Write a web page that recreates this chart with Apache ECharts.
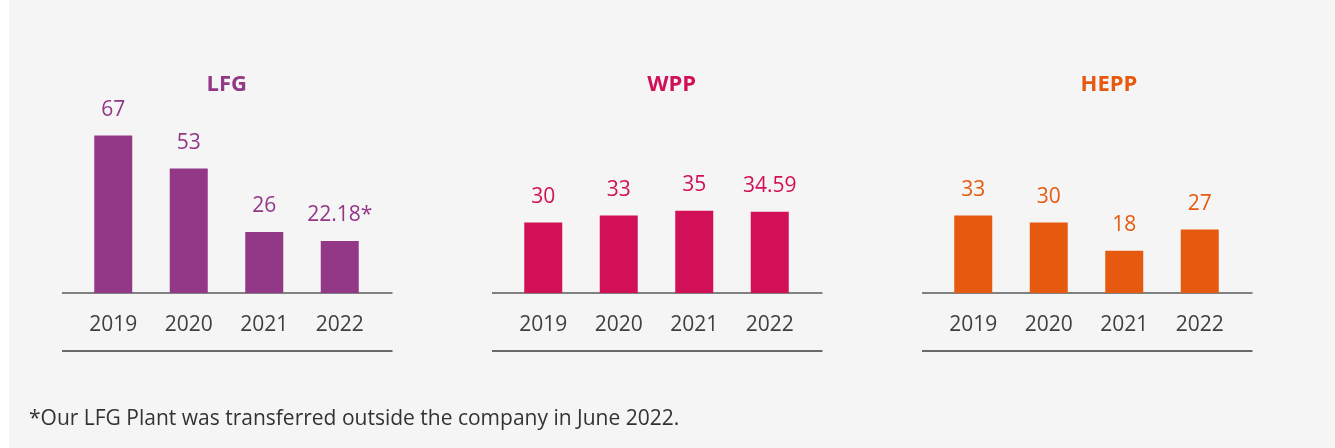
<!DOCTYPE html>
<html>
<head>
<meta charset="utf-8">
<title>LFG / WPP / HEPP</title>
<script src="https://cdn.jsdelivr.net/npm/echarts@6/dist/echarts.min.js"></script>
<style>
  html, body { margin: 0; padding: 0; background: #ffffff; }
  #chart { position: absolute; left: 9px; top: 0; width: 1326px; height: 448px; background: #f5f5f5; }
</style>
</head>
<body>
<div id="chart"></div>
<script>
// Data
const years = ['2019', '2020', '2021', '2022'];
const panelTitles = ['LFG', 'WPP', 'HEPP'];
const lfgValues = [67, 53, 26, 22.18];
const wppValues = [30, 33, 35, 34.59];
const heppValues = [33, 30, 18, 27];
const lfgNotes = ['', '', '', '*'];
const footnote = '*Our LFG Plant was transferred outside the company in June 2022.';

const panelValues = [lfgValues, wppValues, heppValues];
const panelNotes = [lfgNotes, null, null];
const panelColors = ['#933787', '#d21057', '#e65a10'];

// layout (chart div starts 9px from the page's left edge)
const OFFSET = 9;
const PANEL_STEP = 430;
const GRID_LEFT = 75.5 - OFFSET;
const GRID_WIDTH = 302;
const BASE_Y = 293;
const TITLE_X = [226.7, 671.7, 1109];
const FONT = '"Open Sans", "Noto Sans", sans-serif';

const chart = echarts.init(document.getElementById('chart'));

const grids = [];
const xAxes = [];
const yAxes = [];
const series = [];
const titles = [];
const lines = [];

panelValues.forEach((vals, i) => {
  const left = GRID_LEFT + PANEL_STEP * i;
  grids.push({ left: left, width: GRID_WIDTH, top: BASE_Y - 188, bottom: 448 - BASE_Y });
  xAxes.push({
    type: 'category',
    gridIndex: i,
    data: years,
    axisLine: { show: false },
    axisTick: { show: false },
    axisLabel: { color: '#404040', fontSize: 21, fontFamily: FONT, margin: 22 }
  });
  yAxes.push({
    type: 'value',
    gridIndex: i,
    min: 0,
    max: 80,
    show: false
  });
  const notes = panelNotes[i];
  series.push({
    type: 'bar',
    xAxisIndex: i,
    yAxisIndex: i,
    data: vals,
    barWidth: 38,
    itemStyle: { color: panelColors[i] },
    label: {
      show: true,
      position: 'top',
      distance: 15,
      color: panelColors[i],
      fontSize: 21,
      fontFamily: FONT,
      formatter: p => p.value + (notes ? notes[p.dataIndex] : '')
    }
  });
  titles.push({
    text: panelTitles[i],
    left: TITLE_X[i] - OFFSET,
    top: 74,
    padding: 0,
    textAlign: 'center',
    textStyle: { color: panelColors[i], fontSize: 22, fontWeight: 'bold', fontFamily: FONT }
  });
  // baseline and bottom rule under each panel
  const x1 = left - 13.5;
  const x2 = left + GRID_WIDTH + 15;
  lines.push({
    type: 'line',
    shape: { x1: x1, y1: BASE_Y, x2: x2, y2: BASE_Y },
    style: { stroke: '#5a5a5a', lineWidth: 1.5 }
  });
  lines.push({
    type: 'line',
    shape: { x1: x1, y1: 351, x2: x2, y2: 351 },
    style: { stroke: '#3a3a3a', lineWidth: 1.5 }
  });
});

lines.push({
  type: 'text',
  left: 29 - OFFSET,
  top: 409,
  style: { text: footnote, fill: '#333333', fontSize: 21, fontFamily: FONT }
});

chart.setOption({
  animation: false,
  backgroundColor: '#f5f5f5',
  title: titles,
  grid: grids,
  xAxis: xAxes,
  yAxis: yAxes,
  series: series,
  graphic: lines
});
</script>
</body>
</html>
